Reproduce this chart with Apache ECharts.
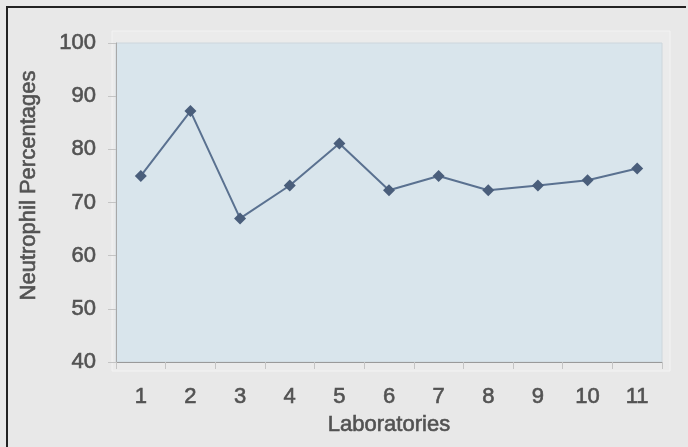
<!DOCTYPE html>
<html>
<head>
<meta charset="utf-8">
<script src="https://cdn.jsdelivr.net/npm/echarts@6/dist/echarts.min.js"></script>
<style>
  html, body { margin: 0; padding: 0; background: #e9e9e9; }
  #chart { width: 688px; height: 447px; }
</style>
</head>
<body>
<div id="chart"></div>
<script>
// Laboratories on the x axis
const laboratories = ['1', '2', '3', '4', '5', '6', '7', '8', '9', '10', '11'];
// Neutrophil percentage reported by each laboratory
const neutrophilPct = [75, 87.2, 67, 73.2, 81.1, 72.3, 75, 72.3, 73.2, 74.2, 76.4];
// Y axis range and step
const yMin = 40, yMax = 100, yStep = 10;

const FONT = 'Liberation Sans, Arial, sans-serif';
const TEXT_COLOR = '#525252';
// slightly heavier strokes for all axis text
const textStyle = {
  fontFamily: FONT, fontSize: 22, color: TEXT_COLOR,
  textBorderColor: TEXT_COLOR, textBorderWidth: 0.6
};

const chart = echarts.init(document.getElementById('chart'));
chart.setOption({
  backgroundColor: '#e8e8e8',
  animation: false,
  graphic: [
    // faint inner panel behind the plot
    { type: 'rect', z: -1, shape: { x: 112, y: 31, width: 558, height: 340 },
      style: { fill: '#ebebeb', stroke: '#f3f3f3', lineWidth: 1 } },
    // dark outer frame along the top and left edges
    { type: 'polyline', z: 10, shape: { points: [[7, 447], [7, 7], [686, 7]] },
      style: { stroke: '#222', lineWidth: 2, fill: null } }
  ],
  grid: {
    left: 116, right: 26, top: 43, bottom: 85,
    show: true, backgroundColor: '#d9e5ec', borderColor: '#cdd6dc', borderWidth: 1
  },
  xAxis: {
    type: 'category',
    data: laboratories,
    boundaryGap: true,
    name: 'Laboratories',
    nameLocation: 'middle',
    nameGap: 52,
    nameTextStyle: textStyle,
    axisLine: { lineStyle: { color: '#9a9a9a', width: 1 } },
    axisTick: { show: true, length: 7, lineStyle: { color: '#c4c4c4' } },
    axisLabel: Object.assign({ margin: 24 }, textStyle),
    splitLine: { show: false }
  },
  yAxis: {
    type: 'value',
    min: yMin, max: yMax, interval: yStep,
    name: 'Neutrophil Percentages',
    nameLocation: 'middle',
    nameGap: 76,
    nameTextStyle: Object.assign({ padding: [0, 0, 0, 34] }, textStyle),
    axisLine: { show: true, lineStyle: { color: '#a8a8a8', width: 1 } },
    axisTick: { show: true, length: 8, lineStyle: { color: '#c4c4c4' } },
    axisLabel: Object.assign({ margin: 20 }, textStyle),
    splitLine: { show: false }
  },
  series: [{
    type: 'line',
    data: neutrophilPct,
    symbol: 'diamond',
    symbolSize: 12,
    lineStyle: { color: '#5a7190', width: 2 },
    itemStyle: { color: '#4a5e7b' }
  }]
});
</script>
</body>
</html>
